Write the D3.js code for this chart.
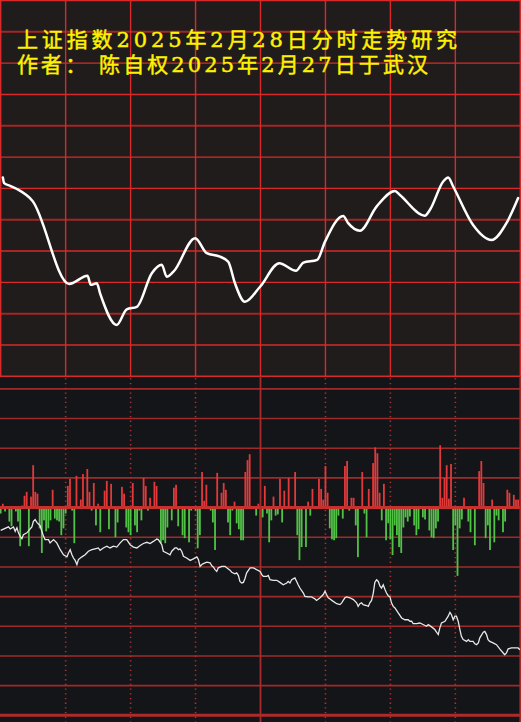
<!DOCTYPE html>
<html><head><meta charset="utf-8">
<script src="https://cdn.jsdelivr.net/npm/d3@7"></script>
<style>html,body{margin:0;padding:0;background:#141518;overflow:hidden}</style>
</head><body><svg id="c" width="521" height="722"></svg>
<script>
// ---------- data ----------
const titleLines = ["上证指数2025年2月28日分时走势研究", "作者： 陈自权2025年2月27日于武汉"];

// upper panel: [minute, value]
const upperLine = [[1,63.5],[1.6,61.7],[4.4,60.8],[7.5,59.8],[14.7,56.0],[31.6,29.5],[40.1,32.1],[41.6,29.2],[44.4,29.7],[45.9,26.5],[53.6,16.4],[58.2,21.4],[62.9,22.2],[69.8,32.9],[74.4,35.6],[76.7,31.8],[79.8,33.4],[89.8,44.1],[95.2,39.3],[101.3,38.2],[105.1,36.6],[108.2,29.7],[112.8,23.8],[119.8,28.6],[128.7,36.1],[136.4,33.7],[139.8,36.3],[146.2,37.2],[149.8,43.0],[158.2,51.2],[160.5,48.9],[165.9,46.5],[173.6,54.2],[182.1,59.2],[184.4,57.9],[195.9,51.3],[198.2,53.1],[204.4,62.2],[206.7,63.5],[209.0,60.6],[218.2,48.3],[226.7,43.5],[233.6,48.9],[239.0,56.9]];

// lower panel line: [minute, value]
const lowerLine = [[0,-7.7],[3.6,-6.5],[4.4,-7.2],[5.9,-6.5],[6.7,-8.0],[7.5,-6.8],[8.2,-8.5],[9.0,-9.7],[9.8,-10.5],[10.5,-9.1],[12.1,-8.5],[13.6,-7.2],[14.4,-6.5],[15.1,-4.6],[15.9,-4.0],[16.7,-5.0],[18.2,-6.1],[19.0,-8.0],[19.8,-9.7],[20.5,-10.8],[22.1,-10.8],[22.8,-11.9],[24.4,-10.8],[25.9,-11.9],[27.5,-14.2],[29.0,-15.9],[30.6,-16.6],[31.3,-15.3],[32.1,-14.2],[32.9,-15.9],[33.6,-17.0],[34.4,-17.8],[35.2,-19.2],[35.9,-17.5],[37.5,-16.6],[39.0,-15.9],[40.5,-14.7],[42.1,-14.2],[43.6,-13.9],[45.1,-13.6],[45.9,-14.4],[47.4,-13.6],[49.0,-13.0],[50.5,-13.6],[52.1,-13.0],[53.6,-13.3],[55.2,-11.9],[56.7,-10.8],[58.2,-10.8],[59.8,-12.5],
[61.3,-13.3],[62.9,-13.6],[64.4,-12.8],[65.9,-12.1],[67.5,-11.7],[69.0,-12.1],[70.5,-11.4],[72.1,-10.6],[72.8,-10.8],[74.4,-12.5],[75.1,-14.7],[76.7,-15.3],[78.2,-15.9],[79.0,-14.7],[80.5,-13.6],[81.3,-13.6],[82.1,-14.2],[82.8,-13.9],[83.6,-14.7],[84.4,-16.4],[85.9,-17.0],[87.5,-17.8],[89.0,-17.3],[90.6,-16.6],[91.3,-17.5],[92.1,-19.8],[92.9,-19.2],[93.6,-18.9],[95.2,-18.4],[96.7,-18.6],[97.5,-19.6],[98.2,-20.0],[99.0,-20.9],[99.8,-21.5],[100.5,-20.3],[102.1,-19.8],[103.6,-19.8],[104.4,-20.3],[105.9,-21.1],[106.7,-21.8],[108.2,-22.3],[109.0,-22.0],[109.8,-22.9],[110.5,-24.9],[111.3,-25.4],[112.1,-25.2],[112.8,-24.0],[113.6,-22.0],[115.2,-20.3],[116.7,-20.3],[118.2,-20.9],[119.8,-21.5],
[120.6,-22.6],[121.3,-23.2],[122.9,-23.2],[123.6,-22.9],[124.4,-24.3],[125.9,-24.5],[127.5,-24.5],[129.0,-25.2],[130.5,-26.0],[132.1,-25.4],[132.8,-24.9],[133.6,-25.4],[134.4,-24.3],[135.1,-24.0],[135.9,-23.7],[136.7,-24.9],[137.4,-26.0],[138.2,-27.1],[139.8,-28.8],[140.5,-29.9],[142.1,-30.1],[143.6,-30.1],[145.2,-30.8],[145.9,-31.3],[147.5,-30.4],[149.0,-29.3],[149.8,-28.2],[150.5,-29.3],[151.3,-30.4],[152.1,-30.8],[153.6,-31.6],[155.2,-32.4],[156.7,-32.7],[157.5,-32.1],[158.2,-31.3],[159.0,-30.4],[159.8,-30.1],[161.3,-30.4],[162.9,-31.0],[164.4,-32.1],[165.1,-33.3],[165.9,-32.4],[166.7,-32.1],[167.4,-32.7],[169.0,-33.0],[169.8,-33.3],[170.5,-32.1],[171.3,-31.3],[172.1,-28.8],[172.8,-25.2],[173.6,-24.3],[174.4,-24.9],[175.2,-26.5],[175.9,-27.1],[176.7,-26.0],[177.5,-27.6],[178.2,-28.8],[179.0,-29.7],[179.8,-30.1],
[180.5,-32.1],[181.3,-33.3],[182.1,-33.8],[183.6,-35.5],[185.2,-37.2],[186.7,-37.8],[188.2,-37.8],[189.0,-38.3],[189.8,-38.3],[190.5,-39.1],[192.1,-39.1],[193.6,-38.9],[195.1,-39.4],[196.7,-40.0],[197.5,-39.4],[199.0,-40.2],[200.5,-41.1],[201.3,-42.0],[202.1,-42.8],[202.8,-40.6],[203.6,-38.9],[205.2,-38.3],[206.7,-36.6],[207.5,-35.3],[208.2,-36.1],[209.0,-37.8],[209.8,-36.6],[210.5,-36.6],[211.3,-38.3],[212.1,-41.1],[212.8,-43.4],[213.6,-44.5],[215.2,-45.1],[216.0,-44.5],[216.7,-45.1],[218.2,-45.1],[219.0,-45.9],[219.8,-46.2],[220.6,-45.6],[221.3,-43.9],[222.9,-42.0],[223.6,-41.7],[224.4,-42.8],[225.1,-44.5],[225.9,-45.1],[227.4,-45.6],[229.0,-46.2],[230.5,-47.6],[232.1,-49.0],[232.8,-49.6],[233.6,-49.0],[234.4,-47.6],[235.9,-47.3],[237.5,-47.3],[239.0,-47.3],[239.8,-47.9]];

// lower panel bars: [minute, value]
const redBars = [[1,1.3],[10,0.7],[11,4],[12,5.3],[14,3.7],[15,14.3],[16,5.3],[17,4.7],[24,6],[31,7.3],[32,9.7],[35,10.7],[37,2.7],[38,11.3],[40,13],[41,5.3],[43,8.3],[45,1.3],[48,5.7],[49,9],[51,8],[56,7],[57,4.7],[61,8.3],[66,10],[67,7.3],[69,3.3],[71,8.7],[72,7.3],[80,6.7],[81,7.7],[93,12],[94,2.3],[95,7.7],[100,11.7],[102,5],[103,8.3],[104,6],[108,2],[113,12],[114,16],[115,18],[119,1.3],[122,7.3],[126,3.7],[129,9.7],[131,5.7],[133,10],[136,12],[142,2],[144,6.3],[147,9.7],[148,6.3],[149,2.7],[150,14],[151,5],[159,14],[160,15.7],[162,3.3],[163,3.3],[167,12],[170,6.3],[172,15],[173,20.3],[174,18.3],[175,5],[177,8],[203,21],[204,3.3],[205,10],[206,14.3],[207,3],[208,14.7],[214,3.3],[221,12.3],[222,15.7],[223,8.3],[227,2.7],[234,6],[235,5],[237,4.3],[238,2.7],[239,2.7]];
const greenBars = [[0,-2],[2,-1.3],[4,-4.7],[5,-6.3],[7,-1.3],[8,-4.7],[9,-13],[13,-13],[18,-7],[19,-15.3],[20,-4.3],[21,-8],[22,-7],[23,-4.3],[25,-3.7],[26,-4.3],[27,-4.7],[28,-9.3],[29,-7],[30,-2],[33,-1],[34,-12],[42,-1],[44,-6],[46,-8.3],[50,-7.3],[53,-10],[54,-5],[58,-6.7],[59,-8.3],[60,-9.3],[62,-6],[63,-8.3],[64,-1],[65,-4.3],[68,-1],[74,-12],[75,-11],[76,-12],[77,-6.7],[79,-4.3],[82,-6.3],[84,-9.3],[85,-10.3],[87,-11.7],[88,-1],[90,-1],[91,-13.7],[92,-9.3],[97,-1],[98,-5],[99,-14.3],[105,-5],[106,-9.3],[107,-1],[109,-5.3],[110,-7.3],[111,-11],[112,-11],[118,-2.7],[120,-10],[121,-3.3],[123,-2],[124,-11.7],[125,-4.3],[127,-2.7],[128,-2.3],[130,-5],[137,-9.3],[138,-17.7],[139,-13.3],[141,-13.3],[143,-2.7],[152,-7],[153,-10.7],[154,-11],[155,-10.3],[156,-2.7],[158,-3.7],[161,-1],[164,-6],[165,-16.7],[168,-2],[169,-10],[176,-4.3],[178,-11],[179,-5.3],[180,-10.7],[181,-16],[182,-6],[183,-9.3],[184,-13.3],[185,-15.3],[186,-6.7],[187,-3.3],[188,-4.7],[189,-3],[191,-6],[192,-9.3],[193,-7.3],[195,-3.3],[196,-4],[198,-7.7],[199,-10],[200,-10.3],[201,-7],[202,-4.7],[209,-14.3],[210,-6],[211,-23],[212,-7],[213,-4],[216,-4.7],[217,-8.3],[219,-12.7],[224,-10.3],[225,-6],[226,-14.3],[228,-11.7],[229,-2.7],[230,-4.3],[232,-8.3],[233,-4.7]];

const upperTicks = d3.range(0, 121, 10);
const upperDarkTicks = [110, 80, 50, 20];
const lowerTicks = d3.range(-70, 41, 10);
const timeTicks = d3.range(0, 241, 30);

// ---------- drawing ----------
const svg = d3.select("#c");
const x = d3.scaleLinear().domain([0, 240]).range([0.7, 520.3]);
const yU = d3.scaleLinear().domain([0, 120]).range([376.3, 0.5]);
const yL = d3.scaleLinear().domain([-70, 40]).range([715.3, 388.9]);
const splitY = yU(0);

svg.append("rect").attr("x",0).attr("y",0).attr("width",521).attr("height",splitY).attr("fill","#201c1b");
svg.append("rect").attr("x",0).attr("y",splitY).attr("width",521).attr("height",722-splitY).attr("fill","#141518");

// upper grid
svg.append("g").selectAll("line").data(upperTicks).join("line")
  .attr("x1",0).attr("x2",521).attr("y1",d=>yU(d)).attr("y2",d=>yU(d))
  .attr("stroke",d=>upperDarkTicks.includes(d)?"#a22626":"#d82a2a")
  .attr("stroke-width",d=>upperDarkTicks.includes(d)?2:1.4);
svg.append("g").selectAll("line").data(timeTicks).join("line")
  .attr("x1",d=>x(d)).attr("x2",d=>x(d)).attr("y1",0).attr("y2",splitY)
  .attr("stroke","#d82a2a").attr("stroke-width",1.4);

// lower grid
svg.append("g").selectAll("line").data(lowerTicks.filter(d=>d!==0 && d!==-70)).join("line")
  .attr("x1",0).attr("x2",521).attr("y1",d=>yL(d)).attr("y2",d=>yL(d))
  .attr("stroke","#a02a2a").attr("stroke-width",1.6);
svg.append("g").selectAll("line").data(timeTicks.filter(d=>d%120!==0)).join("line")
  .attr("x1",d=>x(d)).attr("x2",d=>x(d)).attr("y1",splitY+2).attr("y2",722)
  .attr("stroke","#b03030").attr("stroke-width",1.6).attr("stroke-dasharray","1.3,3.4");

// bars
const bw = 1.8;
svg.append("g").selectAll("rect").data(redBars).join("rect")
  .attr("x",d=>x(d[0])-bw/2).attr("width",bw)
  .attr("y",d=>yL(d[1])).attr("height",d=>yL(0)-yL(d[1]))
  .attr("fill","#e2393a");
svg.append("g").selectAll("rect").data(greenBars).join("rect")
  .attr("x",d=>x(d[0])-bw/2).attr("width",bw)
  .attr("y",yL(0)).attr("height",d=>yL(d[1])-yL(0))
  .attr("fill","#52c247");

// zero line & bottom line
svg.append("line").attr("x1",0).attr("x2",521).attr("y1",yL(0)).attr("y2",yL(0))
  .attr("stroke","#c8302e").attr("stroke-width",3);
svg.append("line").attr("x1",0).attr("x2",521).attr("y1",yL(-70)).attr("y2",yL(-70))
  .attr("stroke","#b02a2a").attr("stroke-width",3);
svg.append("g").selectAll("line").data(timeTicks.filter(d=>d>0 && d%120===0)).join("line")
  .attr("x1",d=>x(d)).attr("x2",d=>x(d)).attr("y1",splitY).attr("y2",722)
  .attr("stroke","#a82a2a").attr("stroke-width",1.8);

// lower line
svg.append("path").datum(lowerLine)
  .attr("d", d3.line().x(d=>x(d[0])).y(d=>yL(d[1])))
  .attr("fill","none").attr("stroke","#e8e8e8").attr("stroke-width",1.3);

// upper line
svg.append("path").datum(upperLine)
  .attr("d", d3.line().x(d=>x(d[0])).y(d=>yU(d[1])).curve(d3.curveMonotoneX))
  .attr("fill","none").attr("stroke","#ffffff").attr("stroke-width",2.5)
  .attr("stroke-linejoin","round").attr("stroke-linecap","round");

// title
const tw = [440, 411];
svg.append("g").selectAll("text").data(titleLines).join("text")
  .attr("x",17).attr("y",(d,i)=>47+i*25)
  .attr("textLength",(d,i)=>tw[i]).attr("lengthAdjust","spacing")
  .attr("fill","#fff200").attr("stroke","#fff200").attr("stroke-width",0.45)
  .style("font-family","'DejaVu Serif', 'Noto Sans CJK SC', sans-serif").style("font-size","21px")
  .text(d=>d);
</script></body></html>
